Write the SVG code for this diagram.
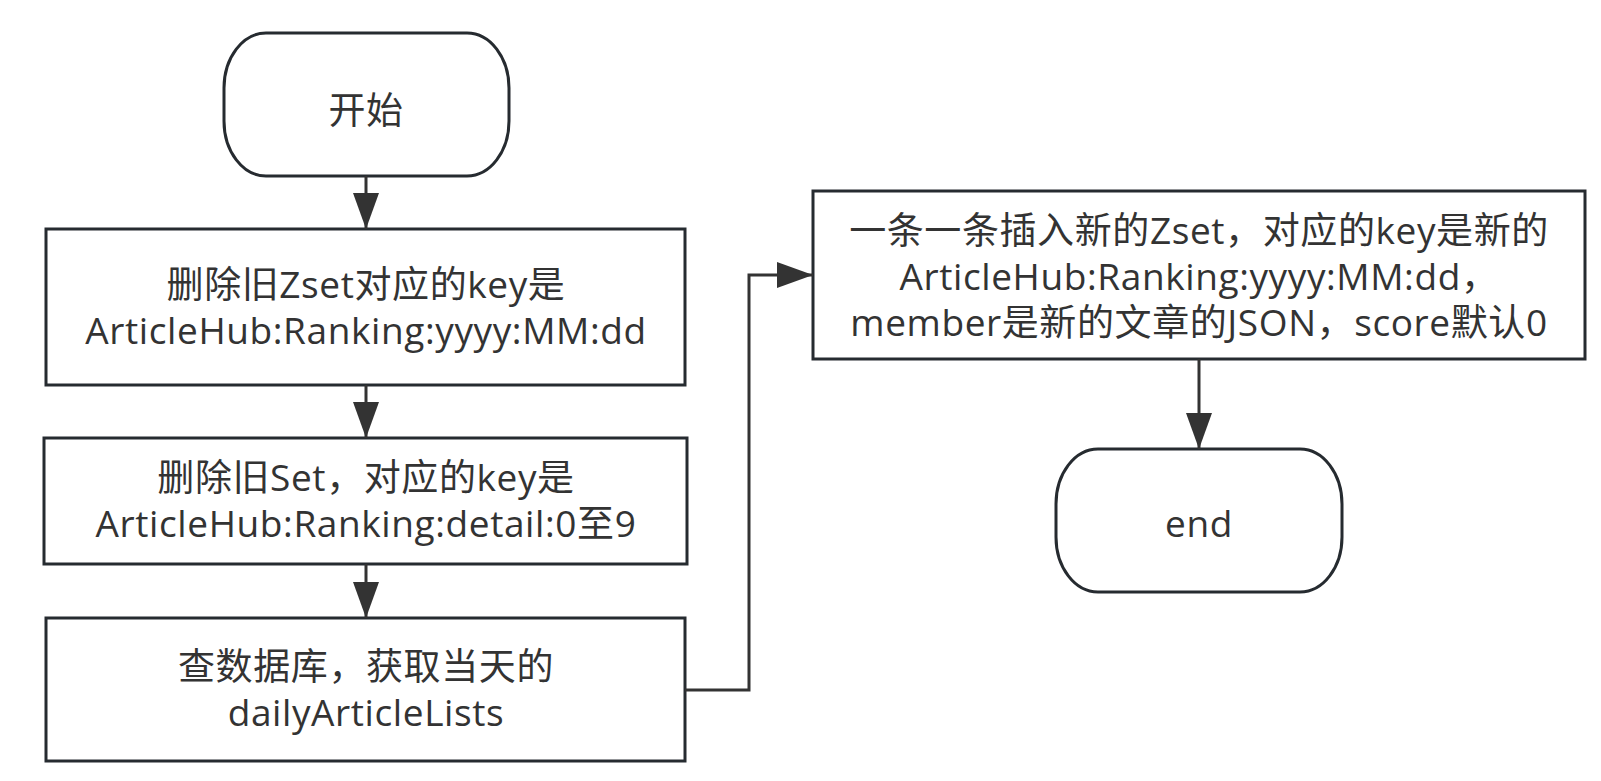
<svg xmlns="http://www.w3.org/2000/svg" width="1601" height="781" viewBox="0 0 1601 781">
<style>
.node{fill:#ffffff;stroke:#262b30;stroke-width:3}
.t{font-family:"Open Sans","Noto Sans CJK SC",sans-serif;font-size:37px;fill:#333333;text-anchor:middle;letter-spacing:0.6px}
.c{fill:none;stroke:#333333;stroke-width:3}
</style>
<defs>
<marker id="arr" viewBox="0 0 36 26" markerWidth="36" markerHeight="26" refX="36" refY="13" orient="auto" markerUnits="userSpaceOnUse">
<path d="M0,0 L36,13 L0,26 z" fill="#333333"/>
</marker>
</defs>
<rect width="1601" height="781" fill="#ffffff"/>
<g id="start">
<rect class="node" x="224" y="33" width="285" height="143" rx="42" ry="55"/>
<text class="t" x="366" y="124">开始</text>
</g>
<g id="box1">
<rect class="node" x="46" y="229" width="639" height="156"/>
<text class="t" x="366" y="298">删除旧Zset对应的key是</text>
<text class="t" x="366" y="344">ArticleHub:Ranking:yyyy:MM:dd</text>
</g>
<g id="box2">
<rect class="node" x="44" y="438" width="643" height="126"/>
<text class="t" x="366" y="491">删除旧Set，对应的key是</text>
<text class="t" x="366" y="537">ArticleHub:Ranking:detail:0至9</text>
</g>
<g id="box3">
<rect class="node" x="46" y="618" width="639" height="143"/>
<text class="t" x="366" y="680">查数据库，获取当天的</text>
<text class="t" x="366" y="726">dailyArticleLists</text>
</g>
<g id="box4">
<rect class="node" x="813" y="191" width="772" height="168"/>
<text class="t" x="1199" y="244">一条一条插入新的Zset，对应的key是新的</text>
<text class="t" x="1199" y="290">ArticleHub:Ranking:yyyy:MM:dd，</text>
<text class="t" x="1199" y="336">member是新的文章的JSON，score默认0</text>
</g>
<g id="end">
<rect class="node" x="1056" y="449" width="286" height="143" rx="42" ry="55"/>
<text class="t" x="1199" y="537">end</text>
</g>
<g id="connectors">
<path class="c" d="M366,176 L366,229" marker-end="url(#arr)"/>
<path class="c" d="M366,385 L366,438" marker-end="url(#arr)"/>
<path class="c" d="M366,564 L366,618" marker-end="url(#arr)"/>
<path class="c" d="M685,690 L749,690 L749,275 L813,275" marker-end="url(#arr)"/>
<path class="c" d="M1199,359 L1199,449" marker-end="url(#arr)"/>
</g>
</svg>
